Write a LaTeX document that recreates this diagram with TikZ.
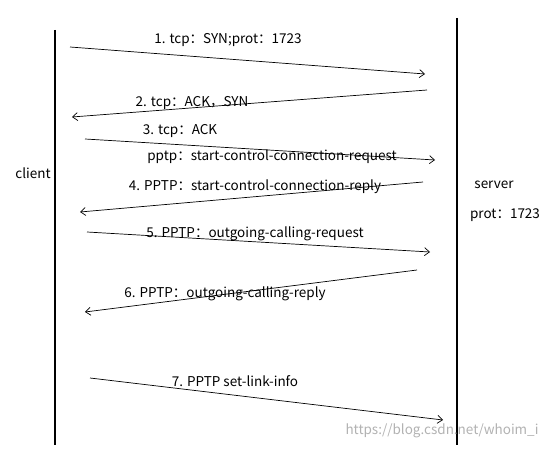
\documentclass[tikz,border=0pt]{standalone}
\usepackage{fontspec}
\setmainfont{Noto Sans CJK SC}
\usetikzlibrary{arrows.meta}
\begin{document}
\begin{tikzpicture}[x=1pt,y=-1pt,
  life/.style={line width=1.6pt},
  msg/.style={line width=0.7pt,-{Straight Barb[length=5pt,width=8pt]}},
  lbl/.style={font=\fontsize{13.5}{15}\selectfont,inner sep=0pt}]
\useasboundingbox (0,0) rectangle (554,449);
\coordinate (lt) at (55,30); \coordinate (lb) at (55,445);
\coordinate (rt) at (457,18); \coordinate (rb) at (457,445);
\draw[life] (lt) -- (lb);
\draw[life] (rt) -- (rb);
\coordinate (a1) at (70,47); \coordinate (b1) at (425,74);
\coordinate (a2) at (427,90); \coordinate (b2) at (72,117);
\coordinate (a3) at (85,139); \coordinate (b3) at (435,160);
\coordinate (a4) at (423,182); \coordinate (b4) at (80,212);
\coordinate (a5) at (87,232); \coordinate (b5) at (430,252);
\coordinate (a6) at (417,270); \coordinate (b6) at (85,312);
\coordinate (a7) at (90,378); \coordinate (b7) at (443,420);
\foreach \i in {1,...,7}{\draw[msg] (a\i) -- (b\i);}
\node[lbl] (l1) at (228,40) {1. tcp：SYN;prot：1723};
\node[lbl] (l2) at (192,103) {2. tcp：ACK，SYN};
\node[lbl] (l3) at (180,131) {3. tcp：ACK};
\node[lbl] (l3b) at (272,157) {pptp：start-control-connection-request};
\node[lbl] (l4) at (255,187) {4. PPTP：start-control-connection-reply};
\node[lbl] (l5) at (255,234) {5. PPTP：outgoing-calling-request};
\node[lbl] (l6) at (225,294) {6. PPTP：outgoing-calling-reply};
\node[lbl] (l7) at (235,381) {7. PPTP set-link-info};
\node[lbl] (c) at (33,173) {client};
\node[lbl] (s) at (494,185) {server};
\node[lbl] (p) at (505,215) {prot：1723};
\node[lbl,text=black!30] (w) at (442,431) {https://blog.csdn.net/whoim\_i};
\end{tikzpicture}
\end{document}
